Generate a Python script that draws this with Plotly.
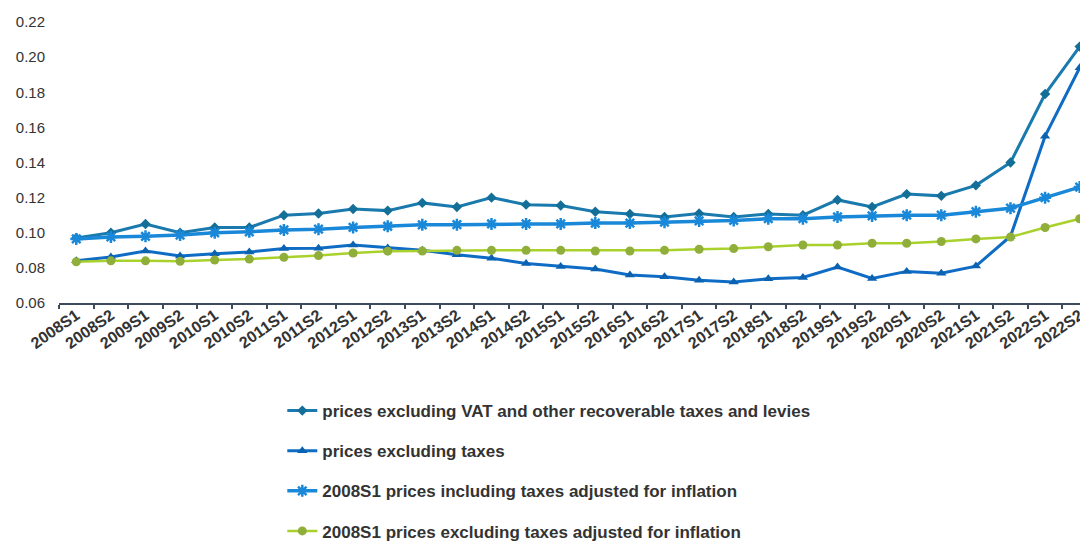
import plotly.graph_objects as go

periods = [f"{y}S{h}" for y in range(2008, 2023) for h in (1, 2)]

excl_vat = [0.097, 0.100, 0.105, 0.100, 0.103, 0.103, 0.110, 0.111, 0.1135, 0.1126,
            0.117, 0.1147, 0.120, 0.116, 0.1155, 0.112, 0.1107, 0.109, 0.111, 0.109,
            0.1107, 0.110, 0.1187, 0.1147, 0.122, 0.121, 0.127, 0.140, 0.179, 0.206]

excl_taxes = [0.084, 0.0862, 0.0896, 0.0868, 0.088, 0.089, 0.091, 0.0912, 0.093, 0.0913,
              0.090, 0.0875, 0.0855, 0.0825, 0.0808, 0.0793, 0.076, 0.075, 0.073, 0.072,
              0.0738, 0.0745, 0.0805, 0.074, 0.078, 0.077, 0.081, 0.098, 0.155, 0.194]

infl_incl_taxes = [0.0965, 0.0976, 0.098, 0.0987, 0.100, 0.1005, 0.1016, 0.102, 0.103, 0.1037,
                   0.1045, 0.1046, 0.105, 0.105, 0.105, 0.1055, 0.1055, 0.106, 0.1067, 0.107,
                   0.108, 0.108, 0.109, 0.1096, 0.110, 0.110, 0.112, 0.114, 0.120, 0.126]

infl_excl_taxes = [0.0835, 0.084, 0.084, 0.0838, 0.0845, 0.085, 0.086, 0.087, 0.0885, 0.0895,
                   0.0896, 0.090, 0.090, 0.090, 0.090, 0.0896, 0.0896, 0.090, 0.0906, 0.091,
                   0.092, 0.093, 0.093, 0.094, 0.094, 0.095, 0.0965, 0.0976, 0.103, 0.108]

series_names = [
    "prices excluding VAT and other recoverable taxes and levies",
    "prices excluding taxes",
    "2008S1 prices including taxes adjusted for inflation",
    "2008S1 prices excluding taxes adjusted for inflation",
]

fig = go.Figure()
fig.add_trace(go.Scatter(
    x=periods, y=excl_vat, name=series_names[0], mode="lines+markers", legendgroup="a",
    line=dict(color="#1a7aad", width=3),
    marker=dict(symbol="diamond", size=8, color="#136e98"),
    cliponaxis=False,
))
fig.add_trace(go.Scatter(
    x=periods, y=excl_taxes, name=series_names[1], mode="lines+markers", legendgroup="b",
    line=dict(color="#0f6cc4", width=3),
    marker=dict(symbol="triangle-up", size=9, color="#0b62b0"),
    cliponaxis=False,
))
fig.add_trace(go.Scatter(
    x=periods, y=infl_incl_taxes, name=series_names[2], mode="lines+markers", legendgroup="c",
    line=dict(color="#1a88d8", width=3.5),
    marker=dict(symbol="asterisk-open", size=10, color="#1a88d8", line=dict(width=2.5, color="#1a88d8")),
    cliponaxis=False,
))
fig.add_trace(go.Scatter(
    x=periods, y=infl_excl_taxes, name=series_names[3], mode="lines+markers", legendgroup="d",
    line=dict(color="#a9d12c", width=2.5),
    marker=dict(symbol="circle", size=9, color="#8fae3a"),
    cliponaxis=False,
))

# The page body has an 8px margin, so the figure is sized to fit the 1088x542 window.
fig.update_layout(
    width=1080, height=534,
    margin=dict(l=51, r=0, t=14, b=239, autoexpand=False),
    paper_bgcolor="white", plot_bgcolor="white",
    font=dict(family="Liberation Sans, Arial, sans-serif", color="#333333"),
    showlegend=True,
    legend=dict(
        x=0.217, y=-0.3205, xanchor="left", yanchor="top",
        font=dict(size=17, color="#333333", family="Liberation Sans, Arial, sans-serif", weight="bold"),
        tracegroupgap=15, traceorder="grouped",
        bgcolor="rgba(0,0,0,0)", itemwidth=30,
    ),
    xaxis=dict(
        type="category", range=[-0.5, 29.24], automargin=False,
        showline=True, linecolor="#3d4b5c", linewidth=2,
        ticks="outside", tickson="boundaries", ticklen=4, tickcolor="#3d4b5c", tickwidth=1.5,
        tickangle=-35, showgrid=False, zeroline=False, ticklabelstandoff=-5,
        tickfont=dict(size=16, color="#333333", weight="bold"),
    ),
    yaxis=dict(
        range=[0.06, 0.22], dtick=0.02, tickformat=".2f", automargin=False,
        showgrid=False, zeroline=False, showline=False, ticks="",
        ticklabelstandoff=13,
        tickfont=dict(size=15, color="#333333"),
    ),
)

fig.write_html("out.html")
